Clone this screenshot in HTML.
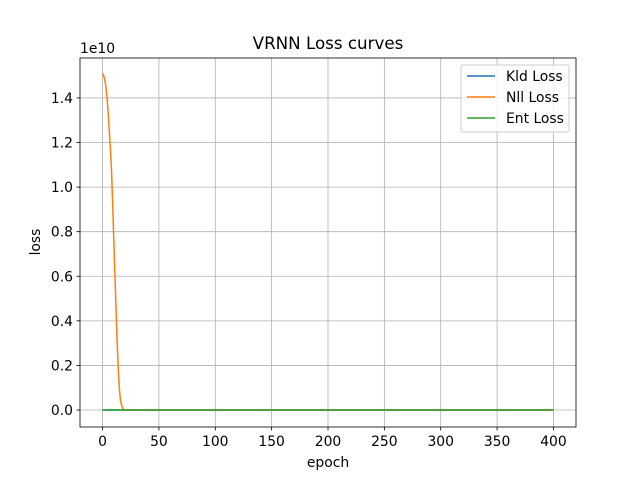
<!DOCTYPE html>
<html><head><meta charset="utf-8"><style>
body{margin:0;background:#fff;font-family:"Liberation Sans","DejaVu Sans",sans-serif;}
svg text{font-family:"DejaVu Sans","Liberation Sans",sans-serif;}
</style></head><body>
<svg id="chart" width="640" height="480" viewBox="0 0 640 480" xmlns="http://www.w3.org/2000/svg">
<rect width="640" height="480" fill="#fff"/>
<g id="grid"></g>
<g id="series"></g>
<rect x="80" y="58" width="496" height="369" fill="none" stroke="#000" stroke-width="0.8"/>
<g id="ticks"></g>
<text x="328" y="49" font-size="16.7" text-anchor="middle">VRNN Loss curves</text>
<text x="328" y="467" font-size="13.9" text-anchor="middle">epoch</text>
<text transform="translate(40,242) rotate(-90)" font-size="13.9" text-anchor="middle">loss</text>
<text x="80" y="53" font-size="13.9">1e10</text>
<g>
<rect x="461" y="65" width="108" height="67" rx="2" fill="#fff" fill-opacity="0.8" stroke="#ccc"/>
<line x1="467" y1="76" x2="495" y2="76" stroke="#1f77b4" stroke-width="1.5"/>
<text x="506" y="81" font-size="13.9">Kld Loss</text>
<line x1="467" y1="97" x2="495" y2="97" stroke="#ff7f0e" stroke-width="1.5"/>
<text x="506" y="102" font-size="13.9">Nll Loss</text>
<line x1="467" y1="118" x2="495" y2="118" stroke="#2ca02c" stroke-width="1.5"/>
<text x="506" y="123" font-size="13.9">Ent Loss</text>
</g>
</svg>
<script>
const epochs=[0,1,2,3,4,5,6,7,8,9,10,11,12,13,14,15,16,17,18,19,400];
const nllValues=[1.51,1.50,1.48,1.45,1.40,1.33,1.25,1.17,1.07,0.92,0.76,0.60,0.45,0.30,0.18,0.09,0.04,0.02,0.005,0,0];
const kldValues=[0,0,0,0,0,0,0,0,0,0,0,0,0,0,0,0,0,0,0,0,0];
const entValues=[0,0,0,0,0,0,0,0,0,0,0,0,0,0,0,0,0,0,0,0,0];
const xTicks=[0,50,100,150,200,250,300,350,400];
const yTicks=[0,0.2,0.4,0.6,0.8,1.0,1.2,1.4];
const X=v=>80+(v+20)*496/440;
const Y=v=>410-v*222.9;
const NS="http://www.w3.org/2000/svg";
function mk(tag,attrs,parent){const e=document.createElementNS(NS,tag);for(const k in attrs)e.setAttribute(k,attrs[k]);document.getElementById(parent).appendChild(e);return e;}
xTicks.forEach(t=>{
 const g=mk('line',{x1:X(t),x2:X(t),y1:58,y2:427,stroke:'#b0b0b0','stroke-width':0.8},'grid');
 
 
 const tk=mk('line',{x1:X(t),x2:X(t),y1:427,y2:430.5,stroke:'#000','stroke-width':0.8},'ticks');
 
 
 const tx=mk('text',{x:X(t),y:446,'font-size':13.9,'text-anchor':'middle'},'ticks');
 tx.textContent=t;
 
 
});
yTicks.forEach(t=>{
 const g=mk('line',{x1:80,x2:576,y1:Y(t),y2:Y(t),stroke:'#b0b0b0','stroke-width':0.8},'grid');
 
 
 const tk=mk('line',{x1:76.5,x2:80,y1:Y(t),y2:Y(t),stroke:'#000','stroke-width':0.8},'ticks');
 
 
 const tx=mk('text',{x:73,y:Y(t)+5,'font-size':13.9,'text-anchor':'end'},'ticks');
 tx.textContent=t.toFixed(1);
 
 
});
function line(vals,color,name){
 const p=mk('polyline',{points:epochs.map((e,i)=>X(e)+','+Y(vals[i])).join(' '),fill:'none',stroke:color,'stroke-width':1.5},'series');
 
 
}
line(kldValues,'#1f77b4','kld-loss-line');
line(nllValues,'#ff7f0e','nll-loss-line');
line(entValues,'#2ca02c','ent-loss-line');
</script>
</body></html>
